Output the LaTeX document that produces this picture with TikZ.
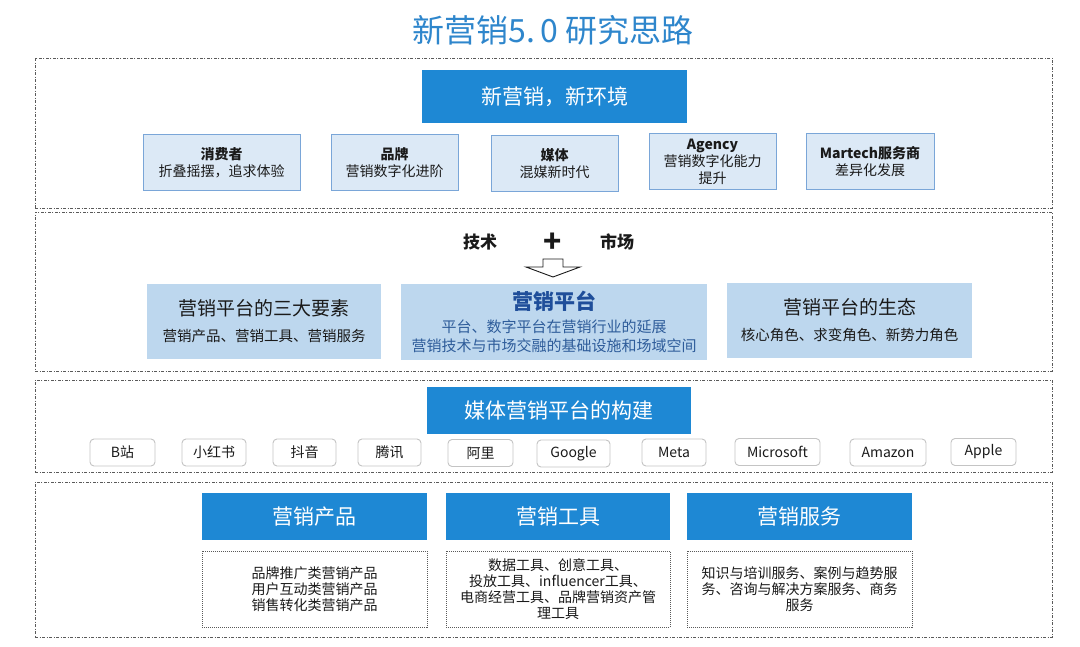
\documentclass[tikz,border=0pt]{standalone}
\usepackage{fontspec}
\setmainfont{Noto Sans CJK SC}
\definecolor{hdrblue}{HTML}{1E88D4}
\definecolor{titleblue}{HTML}{2E86CC}
\definecolor{lightfill}{HTML}{DCE9F6}
\definecolor{lightedge}{HTML}{7AA6D8}
\definecolor{midfill}{HTML}{BDD7EE}
\definecolor{darkblue}{HTML}{1F4E9A}
\definecolor{subblue}{HTML}{2E5C9A}
\definecolor{secline}{HTML}{5A5A5A}
\definecolor{pilledge}{HTML}{C4C4C4}
\definecolor{txt}{HTML}{1A1A1A}
\newcommand{\fs}[2]{\fontsize{#1}{#2}\selectfont}
\tikzset{
  section/.style={draw=secline, line width=0.8pt, dash pattern=on 3pt off 1.5pt on 1pt off 1.5pt, inner sep=0pt},
  bluehdr/.style={fill=hdrblue, text=white, inner sep=0pt, font=\fs{21}{24}},
  envbox/.style={fill=lightfill, draw=lightedge, line width=1pt, inner sep=0pt, align=center, text=txt, font=\fs{14}{17}},
  platbox/.style={fill=midfill, inner sep=0pt, align=center, text=txt, font=\fs{15}{18}},
  pill/.style={draw=pilledge, line width=0.9pt, rounded corners=4pt, fill=white, inner sep=0pt, text=txt, font=\fs{14}{16}},
  contentbox/.style={draw=secline, line width=0.8pt, dash pattern=on 1pt off 1pt, fill=white, inner sep=0pt, align=center, text=txt, font=\fs{14}{16}},
}
\begin{document}
\begin{tikzpicture}[x=1pt,y=-1pt]
\useasboundingbox[fill=white] (0,0) rectangle (1080,647);
% title
\node[text=titleblue, font=\fs{32}{36}] (title) at (553,30) {新营销5.\,0 研究思路};
% sections
\node[section, minimum width=1017, minimum height=150] (sec1) at (543.5,133) {};
\node[section, minimum width=1017, minimum height=159] (sec2) at (543.5,291.5) {};
\node[section, minimum width=1017, minimum height=92] (sec3) at (543.5,426) {};
\node[section, minimum width=1017, minimum height=155] (sec4) at (543.5,559.5) {};
% section 1
\node[bluehdr, minimum width=265, minimum height=53] (env) at (554.5,96.5) {新营销，新环境};
\node[envbox, minimum width=157, minimum height=56] (consumer) at (221.5,163) {\textbf{消费者}\\折叠摇摆，追求体验};
\node[envbox, minimum width=127, minimum height=56] (brand) at (394.5,163) {\textbf{品牌}\\营销数字化进阶};
\node[envbox, minimum width=127, minimum height=56] (media) at (554.5,164) {\textbf{媒体}\\混媒新时代};
\node[envbox, minimum width=127, minimum height=56] (agency) at (712.5,162) {\textbf{Agency}\\营销数字化能力\\提升};
\node[envbox, minimum width=128, minimum height=56] (martech) at (870,162) {\textbf{Martech服务商}\\差异化发展};
% section 2
\node[font=\fs{17}{20}\bfseries, text=txt] (tech) at (480,242) {技术};
\node[font=\fs{30}{32}\bfseries, text=txt] (plus) at (553,243) {+};
\node[font=\fs{17}{20}\bfseries, text=txt] (market) at (617,242) {市场};
\draw[line width=0.9pt, draw=txt, fill=white, line join=miter]
  (543,259) -- (563,259) -- (563,267) -- (580,267) -- (553,277) -- (526,267) -- (543,267) -- cycle;
\node[platbox, minimum width=234, minimum height=75] (three) at (264,321.5)
  {{\fs{19}{22}营销平台的三大要素}\\[8pt]{\fs{14.5}{18}营销产品、营销工具、营销服务}};
\node[platbox, minimum width=306, minimum height=76] (plat) at (554,322)
  {{\fs{21}{25}\bfseries\color{darkblue}营销平台}\\[5pt]{\color{subblue}平台、数字平台在营销行业的延展}\\[1.5pt]{\color{subblue}营销技术与市场交融的基础设施和场域空间}};
\node[platbox, minimum width=245, minimum height=75] (eco) at (849.5,320.5)
  {{\fs{19}{22}营销平台的生态}\\[8pt]{\fs{14.5}{18}核心角色、求变角色、新势力角色}};
% section 3
\node[bluehdr, minimum width=264, minimum height=47] (build) at (559,410.5) {媒体营销平台的构建};
\node[pill, minimum width=65, minimum height=27] (bili) at (122.5,452.5) {B站};
\node[pill, minimum width=64, minimum height=27] (xhs) at (214,452.5) {小红书};
\node[pill, minimum width=63, minimum height=27] (douyin) at (304.5,452.5) {抖音};
\node[pill, minimum width=63, minimum height=27] (tencent) at (389.5,452.5) {腾讯};
\node[pill, minimum width=65, minimum height=27] (ali) at (480.5,453) {阿里};
\node[pill, minimum width=73, minimum height=27] (google) at (573.5,453.5) {Google};
\node[pill, minimum width=64, minimum height=27] (meta) at (674,452.5) {Meta};
\node[pill, minimum width=85, minimum height=27] (ms) at (777.5,452) {Microsoft};
\node[pill, minimum width=76, minimum height=27] (amazon) at (888,452.5) {Amazon};
\node[pill, minimum width=65, minimum height=27] (apple) at (983.5,452) {Apple};
% section 4
\node[bluehdr, minimum width=225, minimum height=47] (prod) at (314.5,516.5) {营销产品};
\node[bluehdr, minimum width=224, minimum height=47] (tool) at (558,516.5) {营销工具};
\node[bluehdr, minimum width=225, minimum height=47] (serv) at (799.5,516.5) {营销服务};
\node[contentbox, minimum width=225, minimum height=76] (prodc) at (314.5,589)
  {品牌推广类营销产品\\用户互动类营销产品\\销售转化类营销产品};
\node[contentbox, minimum width=224, minimum height=76] (toolc) at (558,589)
  {数据工具、创意工具、\\投放工具、influencer工具、\\电商经营工具、品牌营销资产管\\理工具};
\node[contentbox, minimum width=225, minimum height=76] (servc) at (799.5,589)
  {知识与培训服务、案例与趋势服\\务、咨询与解决方案服务、商务\\服务};
\end{tikzpicture}
\end{document}
